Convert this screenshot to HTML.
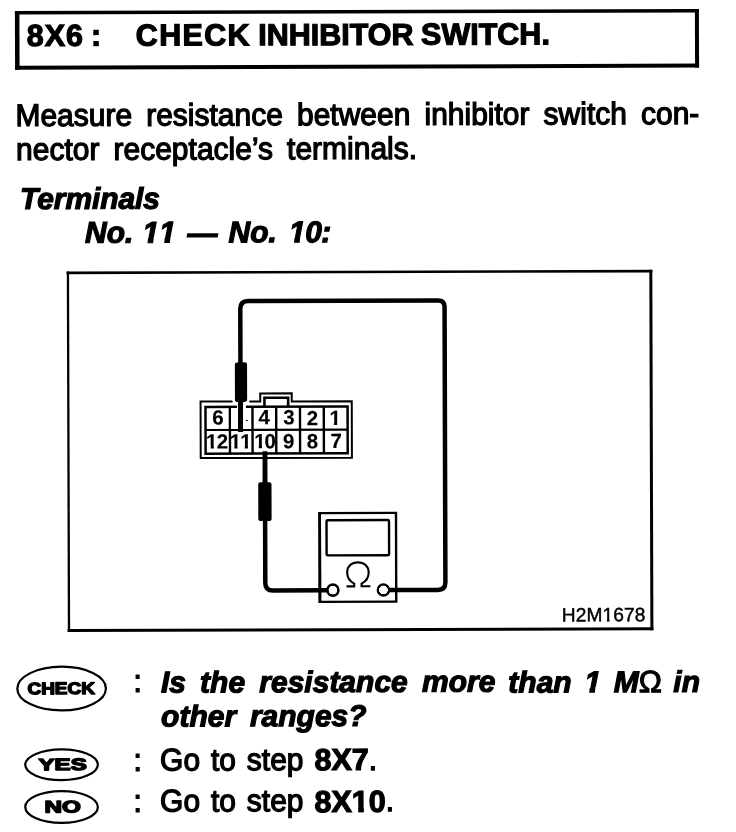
<!DOCTYPE html>
<html>
<head>
<meta charset="utf-8">
<title>8X6 : CHECK INHIBITOR SWITCH.</title>
<style>
html,body{margin:0;padding:0;background:#fff;}
body{width:736px;height:832px;overflow:hidden;position:relative;font-family:"Liberation Sans",sans-serif;color:#000;}
#page{position:absolute;left:0;top:0;width:736px;height:832px;transform-origin:368px 416px;transform:rotate(-0.17deg);filter:grayscale(1) contrast(2.2);}
.w{position:absolute;white-space:nowrap;line-height:40px;height:40px;-webkit-text-stroke:1.1px #000;}
/* footless digit one: clip away the base serif of Liberation's "1" */
.o{display:inline-block;font-style:inherit;line-height:1em;height:1em;vertical-align:baseline;letter-spacing:inherit;
 --b:0.8465em; clip-path:polygon(-0.2em -0.3em,0.8em -0.3em,0.8em calc(var(--b) - var(--f) - var(--s) - 1.3px),calc(var(--r) + var(--s)) calc(var(--b) - var(--f) - var(--s) - 1.3px),calc(var(--r2) + var(--s)) calc(var(--b) + var(--s)),calc(var(--l2) - var(--s)) calc(var(--b) + var(--s)),calc(var(--l) - var(--s)) calc(var(--b) - var(--f) - var(--s) - 1.3px),-0.2em calc(var(--b) - var(--f) - var(--s) - 1.3px));}
.o.r{--f:0.0747em;--l:0.2515em;--r:0.3398em;--l2:0.2515em;--r2:0.3398em;}
.o.b{--f:0.102em;--l:0.2334em;--r:0.3706em;--l2:0.2334em;--r2:0.3706em;}
.o.bi{--f:0.1128em;--l:0.2075em;--r:0.3447em;--l2:0.1855em;--r2:0.3228em;}
#art{position:absolute;left:0;top:0;}
</style>
</head>
<body>
<div id="page">
<span class="w" style="left:27.95px;top:14.06px;font-size:30.5px;font-weight:bold;letter-spacing:0.90px;-webkit-text-stroke-width:1.2px;">8X6</span>
<span class="w" style="left:92.20px;top:14.26px;font-size:30.5px;font-weight:bold;-webkit-text-stroke-width:1.2px;">:</span>
<span class="w" style="left:136.95px;top:14.24px;font-size:30.5px;font-weight:bold;letter-spacing:1.30px;-webkit-text-stroke-width:1.2px;">CHECK</span>
<span class="w" style="left:259.39px;top:14.24px;font-size:30.5px;font-weight:bold;-webkit-text-stroke-width:1.2px;">INHIBITOR</span>
<span class="w" style="left:422.21px;top:14.24px;font-size:30.5px;font-weight:bold;-webkit-text-stroke-width:1.2px;">SWITCH.</span>
<span class="w" style="left:16.28px;top:94.93px;font-size:30px;-webkit-text-stroke-width:1.25px;transform:scaleY(1.04);transform-origin:0 30.4px;">Measure</span>
<span class="w" style="left:147.06px;top:94.93px;font-size:30px;-webkit-text-stroke-width:1.25px;transform:scaleY(1.04);transform-origin:0 30.4px;">resistance</span>
<span class="w" style="left:297.85px;top:94.93px;font-size:30px;-webkit-text-stroke-width:1.25px;transform:scaleY(1.04);transform-origin:0 30.4px;">between</span>
<span class="w" style="left:425.34px;top:94.93px;font-size:30px;-webkit-text-stroke-width:1.25px;transform:scaleY(1.04);transform-origin:0 30.4px;">inhibitor</span>
<span class="w" style="left:544.46px;top:94.93px;font-size:30px;-webkit-text-stroke-width:1.25px;transform:scaleY(1.04);transform-origin:0 30.4px;">switch</span>
<span class="w" style="left:641.87px;top:94.93px;font-size:30px;-webkit-text-stroke-width:1.25px;transform:scaleY(1.04);transform-origin:0 30.4px;">con-</span>
<span class="w" style="left:16.88px;top:129.44px;font-size:30px;-webkit-text-stroke-width:1.25px;transform:scaleY(1.04);transform-origin:0 30.4px;">nector</span>
<span class="w" style="left:114.28px;top:129.44px;font-size:30px;-webkit-text-stroke-width:1.25px;transform:scaleY(1.04);transform-origin:0 30.4px;">receptacle’s</span>
<span class="w" style="left:287.83px;top:129.44px;font-size:30px;-webkit-text-stroke-width:1.25px;transform:scaleY(1.04);transform-origin:0 30.4px;">terminals.</span>
<span class="w" style="left:20.71px;top:177.97px;font-size:30px;font-weight:bold;font-style:italic;letter-spacing:-0.08px;-webkit-text-stroke-width:1.2px;">Terminals</span>
<span class="w" style="left:85.61px;top:212.46px;font-size:30px;font-weight:bold;font-style:italic;-webkit-text-stroke-width:1.2px;">No.</span>
<span class="w" style="left:143.11px;top:212.48px;font-size:30px;font-weight:bold;font-style:italic;-webkit-text-stroke-width:1.2px;font-kerning:none;"><i class="o bi" style="--s:0.75px">1</i><i class="o bi" style="--s:0.75px">1</i></span>
<span class="w" style="left:188.11px;top:212.51px;font-size:30px;font-weight:bold;font-style:italic;-webkit-text-stroke-width:1.2px;">—</span>
<span class="w" style="left:229.11px;top:212.43px;font-size:30px;font-weight:bold;font-style:italic;-webkit-text-stroke-width:1.2px;">No.</span>
<span class="w" style="left:289.61px;top:212.41px;font-size:30px;font-weight:bold;font-style:italic;letter-spacing:-0.60px;-webkit-text-stroke-width:1.2px;"><i class="o bi" style="--s:0.75px">1</i>0:</span>
<span class="w" style="left:160.08px;top:662.28px;font-size:30px;font-weight:bold;font-style:italic;-webkit-text-stroke-width:1.2px;">Is</span>
<span class="w" style="left:199.30px;top:662.28px;font-size:30px;font-weight:bold;font-style:italic;-webkit-text-stroke-width:1.2px;">the</span>
<span class="w" style="left:258.51px;top:662.28px;font-size:30px;font-weight:bold;font-style:italic;-webkit-text-stroke-width:1.2px;">resistance</span>
<span class="w" style="left:421.15px;top:662.28px;font-size:30px;font-weight:bold;font-style:italic;-webkit-text-stroke-width:1.2px;">more</span>
<span class="w" style="left:507.53px;top:662.52px;font-size:30px;font-weight:bold;font-style:italic;-webkit-text-stroke-width:1.2px;">than</span>
<span class="w" style="left:583.57px;top:662.52px;font-size:30px;font-weight:bold;font-style:italic;-webkit-text-stroke-width:1.2px;"><i class="o bi" style="--s:0.75px">1</i></span>
<span class="w" style="left:612.97px;top:662.52px;font-size:30px;font-weight:bold;font-style:italic;-webkit-text-stroke-width:1.2px;">M</span>
<span class="w" style="left:637.96px;top:662.69px;font-size:31px;font-family:"Liberation Serif",serif;letter-spacing:-1.50px;-webkit-text-stroke-width:0.7px;">Ω</span>
<span class="w" style="left:672.49px;top:662.52px;font-size:30px;font-weight:bold;font-style:italic;-webkit-text-stroke-width:1.2px;">in</span>
<span class="w" style="left:160.18px;top:696.28px;font-size:30px;font-weight:bold;font-style:italic;-webkit-text-stroke-width:1.2px;">other</span>
<span class="w" style="left:249.00px;top:696.28px;font-size:30px;font-weight:bold;font-style:italic;-webkit-text-stroke-width:1.2px;">ranges?</span>
<span class="w" style="left:132.80px;top:661.48px;font-size:30px;-webkit-text-stroke-width:1.25px;transform:scaleY(1.04);transform-origin:0 30.4px;">:</span>
<span class="w" style="left:132.57px;top:739.68px;font-size:30px;-webkit-text-stroke-width:1.25px;transform:scaleY(1.04);transform-origin:0 30.4px;">:</span>
<span class="w" style="left:132.45px;top:781.48px;font-size:30px;-webkit-text-stroke-width:1.25px;transform:scaleY(1.04);transform-origin:0 30.4px;">:</span>
<span class="w" style="left:159.07px;top:739.61px;font-size:30px;-webkit-text-stroke-width:1.25px;transform:scaleY(1.04);transform-origin:0 30.4px;">Go</span>
<span class="w" style="left:209.92px;top:739.61px;font-size:30px;-webkit-text-stroke-width:1.25px;transform:scaleY(1.04);transform-origin:0 30.4px;">to</span>
<span class="w" style="left:245.78px;top:739.61px;font-size:30px;-webkit-text-stroke-width:1.25px;transform:scaleY(1.04);transform-origin:0 30.4px;">step</span>
<span class="w" style="left:313.45px;top:739.46px;font-size:30.5px;font-weight:bold;-webkit-text-stroke-width:1.2px;">8X7</span>
<span class="w" style="left:367.72px;top:739.61px;font-size:30px;-webkit-text-stroke-width:1.25px;transform:scaleY(1.04);transform-origin:0 30.4px;">.</span>
<span class="w" style="left:158.95px;top:781.36px;font-size:30px;-webkit-text-stroke-width:1.25px;transform:scaleY(1.04);transform-origin:0 30.4px;">Go</span>
<span class="w" style="left:209.81px;top:781.36px;font-size:30px;-webkit-text-stroke-width:1.25px;transform:scaleY(1.04);transform-origin:0 30.4px;">to</span>
<span class="w" style="left:245.68px;top:781.36px;font-size:30px;-webkit-text-stroke-width:1.25px;transform:scaleY(1.04);transform-origin:0 30.4px;">step</span>
<span class="w" style="left:313.37px;top:781.21px;font-size:30.5px;font-weight:bold;-webkit-text-stroke-width:1.2px;">8X<i class="o b" style="--s:0.75px">1</i>0</span>
<span class="w" style="left:384.60px;top:781.36px;font-size:30px;-webkit-text-stroke-width:1.25px;transform:scaleY(1.04);transform-origin:0 30.4px;">.</span>
<span class="w" style="left:561.11px;top:596.19px;font-size:19.2px;letter-spacing:0.09px;-webkit-text-stroke-width:0.45px;">H2M<i class="o r" style="--s:0.38px">1</i>678</span>
<span class="w" style="left:212.22px;top:397.26px;font-size:20.5px;font-weight:bold;-webkit-text-stroke-width:0.15px;">6</span>
<span class="w" style="left:258.57px;top:397.39px;font-size:20.5px;font-weight:bold;-webkit-text-stroke-width:0.15px;">4</span>
<span class="w" style="left:283.17px;top:397.47px;font-size:20.5px;font-weight:bold;-webkit-text-stroke-width:0.15px;">3</span>
<span class="w" style="left:306.67px;top:397.54px;font-size:20.5px;font-weight:bold;-webkit-text-stroke-width:0.15px;">2</span>
<span class="w" style="left:329.37px;top:397.61px;font-size:20.5px;font-weight:bold;-webkit-text-stroke-width:0.15px;"><i class="o b" style="--s:0.22px">1</i></span>
<span class="w" style="left:206.00px;top:420.94px;font-size:20.5px;font-weight:bold;letter-spacing:-0.80px;-webkit-text-stroke-width:0.15px;"><i class="o b" style="--s:0.22px">1</i>2</span>
<span class="w" style="left:229.70px;top:421.01px;font-size:20.5px;font-weight:bold;letter-spacing:-1.00px;-webkit-text-stroke-width:0.15px;font-kerning:none;"><i class="o b" style="--s:0.22px">1</i><i class="o b" style="--s:0.22px">1</i></span>
<span class="w" style="left:254.10px;top:421.08px;font-size:20.5px;font-weight:bold;letter-spacing:-1.20px;-webkit-text-stroke-width:0.15px;"><i class="o b" style="--s:0.22px">1</i>0</span>
<span class="w" style="left:282.90px;top:421.17px;font-size:20.5px;font-weight:bold;-webkit-text-stroke-width:0.15px;">9</span>
<span class="w" style="left:306.60px;top:421.24px;font-size:20.5px;font-weight:bold;-webkit-text-stroke-width:0.15px;">8</span>
<span class="w" style="left:330.40px;top:421.31px;font-size:20.5px;font-weight:bold;-webkit-text-stroke-width:0.15px;">7</span>
<svg id="art" width="736" height="832" viewBox="0 0 736 832" font-family="Liberation Sans, sans-serif">
  <!-- header box + diagram frame (fractional border widths) -->
  <g fill="#000">
    <rect x="16.1" y="9.9" width="684" height="3.6"/>
    <rect x="16.1" y="64.6" width="684" height="4"/>
    <rect x="16.1" y="9.9" width="4.5" height="58.7"/>
    <rect x="696.1" y="9.9" width="4" height="58.7"/>
    <rect x="67" y="270.6" width="585.75" height="2.65"/>
    <rect x="67" y="628.1" width="585.75" height="3.1"/>
    <rect x="67.2" y="270.6" width="2.3" height="360.6"/>
    <rect x="649.75" y="270.6" width="3" height="360.6"/>
  </g>
  <!-- connector body -->
  <g fill="none" stroke="#000" stroke-linejoin="miter">
    <path d="M200.6,401.1 H260.3 V393.1 H291.8 V401.3 H351.8 V457.6 H200.6 Z" stroke-width="2"/>
    <path d="M264.5,406.5 V397.5 H288.2 V406.5" stroke-width="2.6"/>
    <rect x="205.5" y="406.5" width="142.1" height="46.7" stroke-width="2.5"/>
    <path d="M229.9,406.5 V453 M252.5,406.5 V453 M276.2,406.5 V453 M300,406.5 V453 M323.8,406.5 V453" stroke-width="2.4"/>
    <path d="M205.5,429.5 H347.6" stroke-width="2.2"/>
  </g>
  <!-- gaps in connector outline around probe -->
  <rect x="232.6" y="399" width="16.8" height="4.2" fill="#fff"/>
  <rect x="236.8" y="404" width="9.4" height="4.6" fill="#fff"/>
  <rect x="231.3" y="408" width="19.8" height="20.3" fill="#fff"/>
  <rect x="246" y="419.3" width="1.6" height="1.6" fill="#000"/>
  <!-- wires -->
  <g fill="none" stroke="#000" stroke-width="4.5" stroke-linejoin="round">
    <path d="M240.6,365 V308.5 Q240.6,300.6 248.5,300.6 H438.5 Q444.9,300.6 444.9,307 V582.5 Q444.9,590.1 437.3,590.1 H389"/>
    <path d="M264.8,518 V582.6 Q264.8,590.2 272.4,590.2 H326.5"/>
  </g>
  <!-- probes -->
  <rect x="235" y="362" width="12.2" height="39.5" rx="2" fill="#000"/>
  <rect x="238" y="400" width="5.1" height="31.6" fill="#000"/>
  <rect x="262.4" y="451" width="4.9" height="33" fill="#000"/>
  <rect x="258" y="482" width="13.3" height="38.6" rx="2" fill="#000"/>
  <!-- meter -->
  <g fill="none" stroke="#000">
    <path d="M319.5,513 H395.7 V601.7 H319.5 Z" stroke-width="2.4"/>
    <line x1="319.3" y1="511.8" x2="319.3" y2="602.9" stroke-width="2.8"/>
    <rect x="326.2" y="520.1" width="62.5" height="35.2" rx="1.2" stroke-width="2.4"/>
    <circle cx="332.4" cy="590" r="5.6" stroke-width="2.4" fill="#fff"/>
    <circle cx="382.9" cy="590" r="5.6" stroke-width="2.4" fill="#fff"/>
  </g>
  <path d="M346,586.3 H353.7 V583.6 C349.3,581.2 346.7,577.2 346.7,572.4 C346.7,566.2 351.2,562.3 357.4,562.3 C363.7,562.3 368.2,566.2 368.2,572.4 C368.2,577.2 365.6,581.2 361.1,583.6 V586.3 H369.9" fill="none" stroke="#000" stroke-width="2.1" stroke-linejoin="miter"/>
  <!-- CHECK / YES / NO ovals -->
  <g fill="none" stroke="#000" stroke-width="2.2">
    <ellipse cx="60.8" cy="687.6" rx="44.3" ry="21.9"/>
    <ellipse cx="60.5" cy="763.8" rx="36.3" ry="15.4"/>
    <ellipse cx="60.4" cy="806.1" rx="36.3" ry="15.9"/>
  </g>
  <g font-weight="bold" fill="#000" stroke="#000" stroke-width="1.4" stroke-linejoin="round" lengthAdjust="spacingAndGlyphs">
    <text x="26.6" y="693.2" font-size="16.6" textLength="67.6" lengthAdjust="spacingAndGlyphs">CHECK</text>
    <text x="37.4" y="769.2" font-size="16.4" textLength="48.4" lengthAdjust="spacingAndGlyphs">YES</text>
    <text x="43.3" y="811.5" font-size="16.8" textLength="36.4" lengthAdjust="spacingAndGlyphs">NO</text>
  </g>
</svg>

</div>
</body>
</html>
